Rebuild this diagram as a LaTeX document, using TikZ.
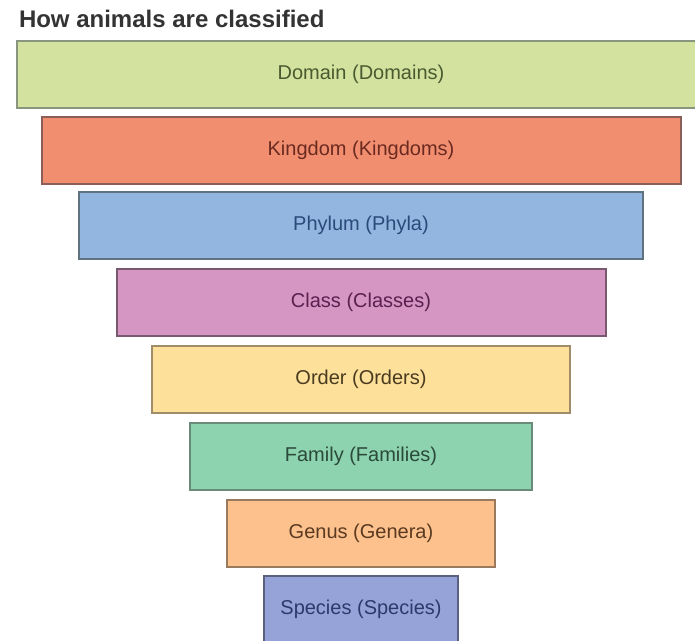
\documentclass[tikz,border=0pt]{standalone}
\usepackage{fontspec}
\setmainfont{Liberation Sans}
\usetikzlibrary{positioning}

\definecolor{domainfill}{HTML}{D3E29E}
\definecolor{domainline}{HTML}{8A9580}
\definecolor{domaintext}{HTML}{4A5A30}
\definecolor{kingdomfill}{HTML}{F28E70}
\definecolor{kingdomline}{HTML}{8B5E58}
\definecolor{kingdomtext}{HTML}{6A2A20}
\definecolor{phylumfill}{HTML}{93B6E0}
\definecolor{phylumline}{HTML}{5E7280}
\definecolor{phylumtext}{HTML}{2A4A7A}
\definecolor{classfill}{HTML}{D696C4}
\definecolor{classline}{HTML}{7A5870}
\definecolor{classtext}{HTML}{5A2050}
\definecolor{orderfill}{HTML}{FDE19B}
\definecolor{orderline}{HTML}{A08C68}
\definecolor{ordertext}{HTML}{4A3A20}
\definecolor{familyfill}{HTML}{8ED3B0}
\definecolor{familyline}{HTML}{6A8A7A}
\definecolor{familytext}{HTML}{2A4A3A}
\definecolor{genusfill}{HTML}{FDC18E}
\definecolor{genusline}{HTML}{9A7A5E}
\definecolor{genustext}{HTML}{5A3A20}
\definecolor{speciesfill}{HTML}{96A3D8}
\definecolor{speciesline}{HTML}{5A6080}
\definecolor{speciestext}{HTML}{2A3A6A}

\begin{document}
\begin{tikzpicture}[x=1pt, y=-1pt, node distance={9pt}, line width=2pt,
    level/.style = {draw, rectangle, minimum height=67pt, inner sep=0pt, outer sep=0pt,
                    font=\fontsize{20}{24}\selectfont}]
    \useasboundingbox (0,0) rectangle (695,640);

    \node[anchor=base west, font=\fontsize{24}{28}\selectfont\bfseries, text=black!80, inner sep=0pt] (title) at (18,27) {How animals are classified};

    % the ranks, widest first
    \node[level, fill=domainfill, draw=domainline, text=domaintext, minimum width=688pt] (domain) at (361,74) {Domain (Domains)};
    \node[level, fill=kingdomfill, draw=kingdomline, text=kingdomtext, minimum width=639pt, below=of domain] (kingdom) {Kingdom (Kingdoms)};
    \node[level, fill=phylumfill, draw=phylumline, text=phylumtext, minimum width=564pt, below=8pt of kingdom] (phylum) {Phylum (Phyla)};
    \node[level, fill=classfill, draw=classline, text=classtext, minimum width=489pt, below=10pt of phylum] (class) {Class (Classes)};
    \node[level, fill=orderfill, draw=orderline, text=ordertext, minimum width=418pt, below=10pt of class] (order) {Order (Orders)};
    \node[level, fill=familyfill, draw=familyline, text=familytext, minimum width=342pt, below=10pt of order] (family) {Family (Families)};
    \node[level, fill=genusfill, draw=genusline, text=genustext, minimum width=268pt, below=10pt of family] (genus) {Genus (Genera)};
    \node[level, fill=speciesfill, draw=speciesline, text=speciestext, minimum width=194pt, below=of genus] (species) {Species (Species)};
\end{tikzpicture}
\end{document}
